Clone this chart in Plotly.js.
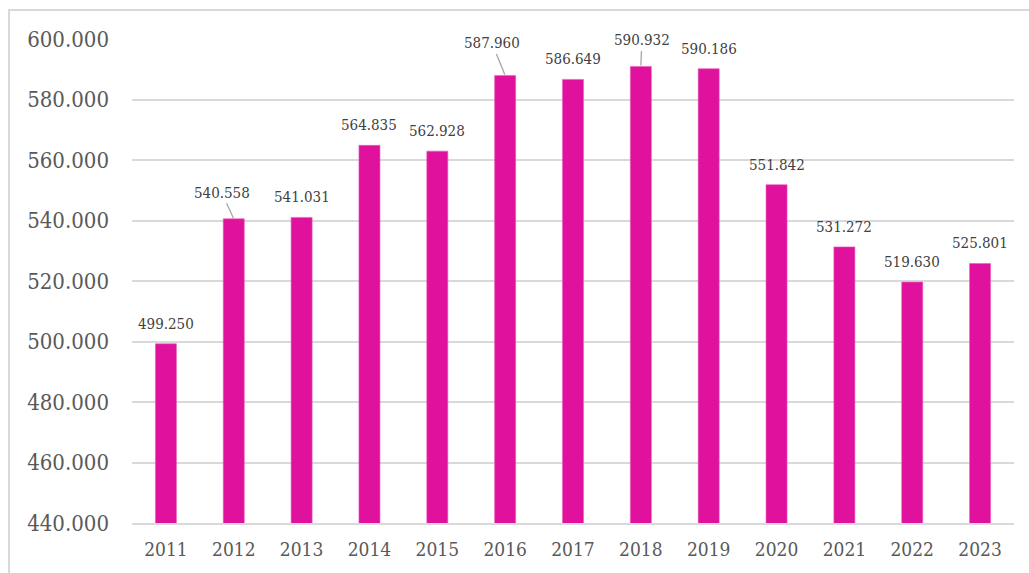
<!DOCTYPE html>
<html>
<head>
<meta charset="utf-8">
<script src="https://cdn.plot.ly/plotly-3.0.1.min.js"></script>
<style>
html,body{margin:0;padding:0;background:#fff;}
#chart{position:absolute;left:0;top:0;width:1029px;height:573px;}
#frame{position:absolute;left:8px;top:9px;width:1100px;height:700px;border-left:2px solid #d9d9d9;border-top:2px solid #d9d9d9;pointer-events:none;}
</style>
</head>
<body>
<div id="chart"></div>
<div id="frame"></div>
<script>
const years = ['2011','2012','2013','2014','2015','2016','2017','2018','2019','2020','2021','2022','2023'];
const values = [499250, 540558, 541031, 564835, 562928, 587960, 586649, 590932, 590186, 551842, 531272, 519630, 525801];
const yTicks = [440000, 460000, 480000, 500000, 520000, 540000, 560000, 580000, 600000];

const FONT = '"DejaVu Serif Condensed", "DejaVu Serif", serif';

function fmt(v){ return String(v).replace(/\B(?=(\d{3})+(?!\d))/g, '.'); }

// leader-line offsets (pixel) for labels that were moved
const leader = {'2012': [-12, -26], '2016': [-13, -32], '2018': [1, -26]};

const annotations = years.map((yr, i) => {
  const a = {
    x: i, y: values[i], xref: 'x', yref: 'y',
    text: fmt(values[i]),
    font: {family: FONT, size: 15, color: '#404040'}
  };
  if (leader[yr]) {
    a.showarrow = true; a.arrowhead = 0; a.arrowwidth = 1.3; a.arrowcolor = '#a6a6a6';
    a.ax = leader[yr][0]; a.ay = leader[yr][1]; a.standoff = 1;
  } else {
    a.showarrow = false; a.yanchor = 'middle'; a.yshift = 20;
  }
  return a;
});

const trace = {
  type: 'bar', x: years, y: values,
  marker: {color: '#E0119D', line: {color: '#ea5cbd', width: 0.6}},
  hoverinfo: 'skip'
};

const layout = {
  width: 1029, height: 573,
  margin: {l: 132, r: 15, t: 39, b: 50},
  paper_bgcolor: '#fff', plot_bgcolor: '#fff',
  separators: ',.',
  bargap: 0.69,
  showlegend: false,
  xaxis: {
    type: 'category', range: [-0.5, years.length - 0.5], autorange: false,
    tickfont: {family: FONT, size: 19, color: '#595959'},
    showgrid: false, showline: true, linecolor: '#d9d9d9', linewidth: 2,
    ticks: '', ticklabelstandoff: 8, fixedrange: true
  },
  yaxis: {
    range: [440000, 600000], autorange: false,
    tickvals: yTicks,
    ticktext: yTicks.map(fmt),
    tickfont: {family: FONT, size: 22, color: '#595959'},
    showgrid: true, gridcolor: '#d9d9d9', gridwidth: 2,
    zeroline: false, showline: false, ticks: '', ticklabelstandoff: 22, fixedrange: true
  },
  annotations: annotations
};

Plotly.newPlot('chart', [trace], layout, {displayModeBar: false, staticPlot: true});
</script>
</body>
</html>
